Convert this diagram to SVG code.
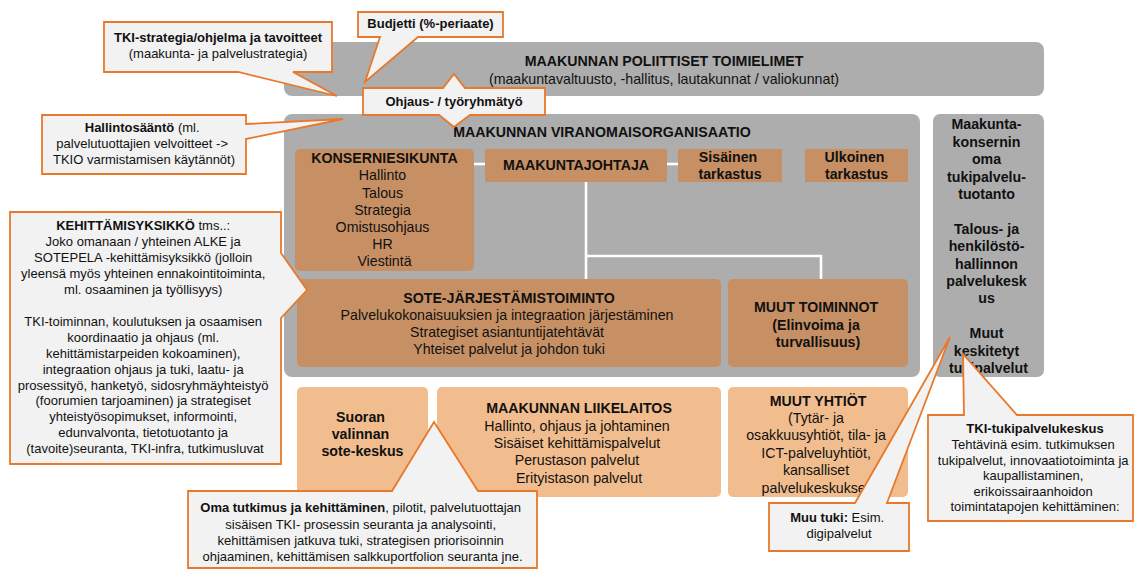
<svg xmlns="http://www.w3.org/2000/svg" width="1134" height="570" viewBox="0 0 1134 570">
  <style>
    text { font-family: "Liberation Sans", Arial, Helvetica, sans-serif; fill: #111; text-anchor: middle; }
    .t { font-size: 14.2px; }
    .c { font-size: 13px; }
    .b { font-weight: bold; }
    .gray { fill: #ADADAD; }
    .dark { fill: #C79064; }
    .light { fill: #F1BD8E; }
    .callout { fill: #F2F2F2; stroke: #E8792A; stroke-width: 1.8; stroke-linejoin: miter; }
    .link { stroke: #FFFFFF; stroke-width: 2.6; fill: none; }
  </style>

  <!-- Political bodies -->
  <g id="poliittiset">
    <rect class="gray" x="284" y="42" width="760" height="54" rx="8"/>
    <text class="t b" x="664" y="66">MAAKUNNAN POLIITTISET TOIMIELIMET</text>
    <text class="t" x="664" y="83.5">(maakuntavaltuusto, -hallitus, lautakunnat / valiokunnat)</text>
  </g>

  <!-- Authority organisation frame -->
  <g id="viranomaisorganisaatio">
    <rect class="gray" x="284" y="114" width="636" height="263" rx="8"/>
    <text class="t b" x="602" y="136.7">MAAKUNNAN VIRANOMAISORGANISAATIO</text>
  </g>

  <!-- Group shared support services -->
  <g id="tukipalvelut">
    <rect class="gray" x="933" y="114" width="111" height="263" rx="7"/>
    <text class="t b" x="988.5">
      <tspan x="988.5" y="129.3">Maakunta-</tspan>
      <tspan x="988.5" y="146.7">konsernin</tspan>
      <tspan x="988.5" y="164.1">oma</tspan>
      <tspan x="988.5" y="181.5">tukipalvelu-</tspan>
      <tspan x="988.5" y="198.9">tuotanto</tspan>
      <tspan x="988.5" y="233.7">Talous- ja</tspan>
      <tspan x="988.5" y="251.1">henkilöstö-</tspan>
      <tspan x="988.5" y="268.5">hallinnon</tspan>
      <tspan x="988.5" y="285.9">palvelukesk</tspan>
      <tspan x="988.5" y="303.3">us</tspan>
      <tspan x="988.5" y="338.1">Muut</tspan>
      <tspan x="988.5" y="355.5">keskitetyt</tspan>
      <tspan x="988.5" y="372.9">tukipalvelut</tspan>
    </text>
  </g>

  <!-- Organisation chart links -->
  <g id="connectors">
    <line class="link" x1="474" y1="164" x2="485" y2="164"/>
    <line class="link" x1="667" y1="164" x2="678" y2="164"/>
    <line class="link" x1="586" y1="182" x2="586" y2="279"/>
    <polyline class="link" points="586,256 821,256 821,279"/>
  </g>

  <g id="konserniesikunta">
    <rect class="dark" x="295" y="149" width="179" height="122" rx="5"/>
    <text class="t b" x="384.5" y="163">KONSERNIESIKUNTA</text>
    <text class="t">
      <tspan x="384.5" y="180.3">Hallinto</tspan>
      <tspan x="384.5" y="197.5">Talous</tspan>
      <tspan x="384.5" y="214.7">Strategia</tspan>
      <tspan x="384.5" y="232">Omistusohjaus</tspan>
      <tspan x="384.5" y="249.2">HR</tspan>
      <tspan x="384.5" y="266.4">Viestintä</tspan>
    </text>
  </g>

  <g id="maakuntajohtaja">
    <rect class="dark" x="485" y="149" width="182" height="33" rx="1.5"/>
    <text class="t b" x="576" y="170">MAAKUNTAJOHTAJA</text>
  </g>

  <g id="sisainen-tarkastus">
    <rect class="dark" x="678" y="149" width="104" height="33" rx="1"/>
    <text class="t b">
      <tspan x="730" y="161.5">Sisäinen</tspan>
      <tspan x="730" y="179">tarkastus</tspan>
    </text>
  </g>

  <g id="ulkoinen-tarkastus">
    <rect class="dark" x="805" y="149" width="103" height="33" rx="1"/>
    <text class="t b">
      <tspan x="856.5" y="161.5">Ulkoinen</tspan>
      <tspan x="856.5" y="179">tarkastus</tspan>
    </text>
  </g>

  <g id="sote-jarjestamistoiminto">
    <rect class="dark" x="297" y="279" width="424" height="88" rx="5"/>
    <text class="t b" x="509" y="303">SOTE-JÄRJESTÄMISTOIMINTO</text>
    <text class="t">
      <tspan x="509" y="320">Palvelukokonaisuuksien ja integraation järjestäminen</tspan>
      <tspan x="509" y="337">Strategiset asiantuntijatehtävät</tspan>
      <tspan x="509" y="354.3">Yhteiset palvelut ja johdon tuki</tspan>
    </text>
  </g>

  <g id="muut-toiminnot">
    <rect class="dark" x="728" y="279" width="180" height="88" rx="5"/>
    <text class="t b">
      <tspan x="818" y="312.3">MUUT TOIMINNOT</tspan>
      <tspan x="818" y="329.6">(Elinvoima ja</tspan>
      <tspan x="818" y="347">turvallisuus)</tspan>
    </text>
  </g>

  <!-- Producer organisations -->
  <g id="sote-keskus">
    <rect class="light" x="297" y="387" width="131" height="110" rx="5"/>
    <text class="t b">
      <tspan x="362.5" y="422.3">Suoran</tspan>
      <tspan x="362.5" y="439.4">valinnan</tspan>
      <tspan x="362.5" y="456.4">sote-keskus</tspan>
    </text>
  </g>

  <g id="liikelaitos">
    <rect class="light" x="437" y="387" width="284" height="110" rx="5"/>
    <text class="t b" x="579" y="413.3">MAAKUNNAN LIIKELAITOS</text>
    <text class="t">
      <tspan x="579" y="430.7">Hallinto, ohjaus ja johtaminen</tspan>
      <tspan x="579" y="448">Sisäiset kehittämispalvelut</tspan>
      <tspan x="579" y="465.3">Perustason palvelut</tspan>
      <tspan x="579" y="482.6">Erityistason palvelut</tspan>
    </text>
  </g>

  <g id="muut-yhtiot">
    <rect class="light" x="728" y="387" width="180" height="110" rx="5"/>
    <text class="t b" x="818" y="405.7">MUUT YHTIÖT</text>
    <text class="t">
      <tspan x="818" y="423">(Tytär- ja</tspan>
      <tspan x="818" y="440.4">osakkuusyhtiöt, tila- ja</tspan>
      <tspan x="818" y="457.8">ICT-palveluyhtiöt,</tspan>
      <tspan x="818" y="475.2">kansalliset</tspan>
      <tspan x="818" y="492.6">palvelukeskukset)</tspan>
    </text>
  </g>

  <!-- Callouts -->
  <g id="tki-strategia">
    <path class="callout" d="M104,22 H332 V72 H293 L337,96 L238,72 H104 Z"/>
    <text class="c b" x="218" y="41.5">TKI-strategia/ohjelma ja tavoitteet</text>
    <text class="c" x="218" y="58">(maakunta- ja palvelustrategia)</text>
  </g>

  <g id="budjetti">
    <path class="callout" d="M358,12 H503 V37 H418 L365,82 L380,37 H358 Z"/>
    <text class="c b" x="430.5" y="28">Budjetti (%-periaate)</text>
  </g>

  <g id="ohjaus">
    <path class="callout" d="M363,88 H443 L454,74 L465,88 H545 V115 H470 L454,127 L439,115 H363 Z"/>
    <text class="c b" x="454" y="106">Ohjaus- / työryhmätyö</text>
  </g>

  <g id="hallintosaanto">
    <path class="callout" d="M42,115 H246 V124 L343,119 L246,139 V174 H42 Z"/>
    <text class="c">
      <tspan x="144" y="132.3"><tspan class="b">Hallintosääntö</tspan> (ml.</tspan>
      <tspan x="144" y="148.3">palvelutuottajien velvoitteet -&gt;</tspan>
      <tspan x="144" y="164.3">TKIO varmistamisen käytännöt)</tspan>
    </text>
  </g>

  <g id="kehittamisyksikko">
    <path class="callout" d="M10,212 H281 V253 L307,290 L281,318 V464 H10 Z"/>
    <text class="c">
      <tspan x="145" y="230"><tspan class="b">KEHITTÄMISYKSIKKÖ</tspan> tms..:</tspan>
      <tspan x="145" y="246">Joko omanaan / yhteinen ALKE ja</tspan>
      <tspan x="145" y="262">SOTEPELA -kehittämisyksikkö (jolloin</tspan>
      <tspan x="145" y="277.9">yleensä myös yhteinen ennakointitoiminta,</tspan>
      <tspan x="145" y="293.8">ml. osaaminen ja työllisyys)</tspan>
      <tspan x="145" y="325.7">TKI-toiminnan, koulutuksen ja osaamisen</tspan>
      <tspan x="145" y="341.6">koordinaatio ja ohjaus (ml.</tspan>
      <tspan x="145" y="357.6">kehittämistarpeiden kokoaminen),</tspan>
      <tspan x="145" y="373.5">integraation ohjaus ja tuki, laatu- ja</tspan>
      <tspan x="145" y="389.5">prosessityö, hanketyö, sidosryhmäyhteistyö</tspan>
      <tspan x="145" y="405.4">(foorumien tarjoaminen) ja strategiset</tspan>
      <tspan x="145" y="421.4">yhteistyösopimukset, informointi,</tspan>
      <tspan x="145" y="437.3">edunvalvonta, tietotuotanto ja</tspan>
      <tspan x="145" y="453.3">(tavoite)seuranta, TKI-infra, tutkimusluvat</tspan>
    </text>
  </g>

  <g id="oma-tutkimus">
    <path class="callout" d="M188,491 H392 L434,422 L478,491 H537 V568 H188 Z"/>
    <text class="c">
      <tspan x="362.5" y="512.3"><tspan class="b">Oma tutkimus ja kehittäminen</tspan>, pilotit, palvelutuottajan</tspan>
      <tspan x="362.5" y="528.6">sisäisen TKI- prosessin seuranta ja analysointi,</tspan>
      <tspan x="362.5" y="544.9">kehittämisen jatkuva tuki, strategisen priorisoinnin</tspan>
      <tspan x="362.5" y="561.2">ohjaaminen, kehittämisen salkkuportfolion seuranta jne.</tspan>
    </text>
  </g>

  <g id="muu-tuki">
    <path class="callout" d="M769,503 H855 L950,337 L887,503 H909 V551 H769 Z"/>
    <text class="c">
      <tspan x="839" y="521.7"><tspan class="b">Muu tuki:</tspan> Esim.</tspan>
      <tspan x="839" y="537.7">digipalvelut</tspan>
    </text>
  </g>

  <g id="tki-tukipalvelukeskus">
    <path class="callout" d="M928,415 H964 L963,354 L1017,415 H1133 V521 H928 Z"/>
    <text class="c b" x="1035" y="433.3">TKI-tukipalvelukeskus</text>
    <text class="c">
      <tspan x="1035" y="449">Tehtävinä esim. tutkimuksen</tspan>
      <tspan x="1035" y="464.6">tukipalvelut, innovaatiotoiminta ja</tspan>
      <tspan x="1035" y="480.2">kaupallistaminen,</tspan>
      <tspan x="1035" y="495.8">erikoissairaanhoidon</tspan>
      <tspan x="1035" y="511.4">toimintatapojen kehittäminen:</tspan>
    </text>
  </g>
</svg>
